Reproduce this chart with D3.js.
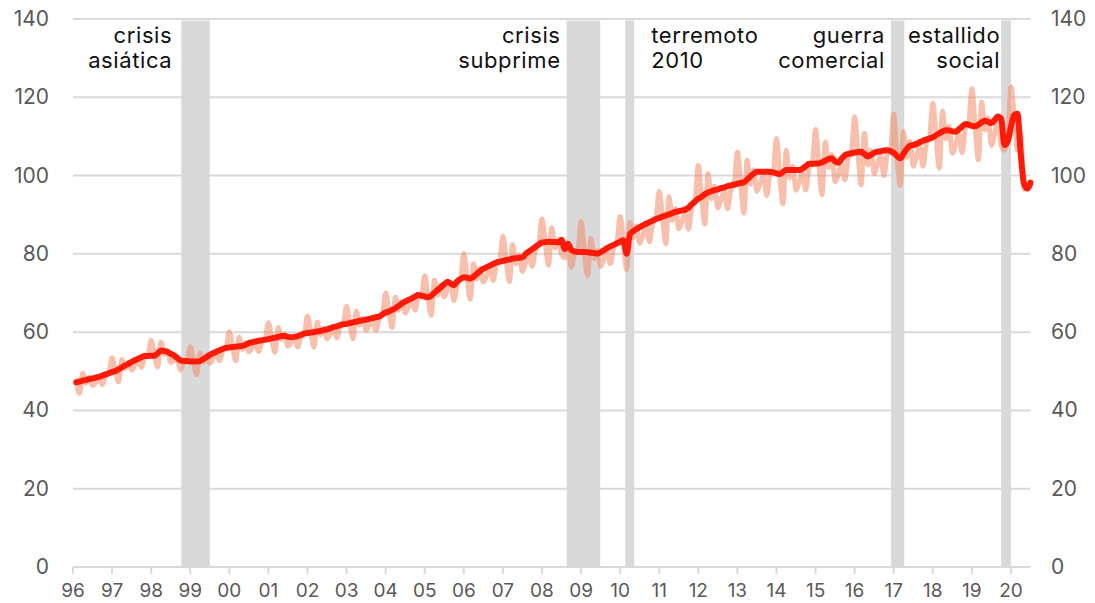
<!DOCTYPE html>
<html>
<head>
<meta charset="utf-8">
<script src="https://cdn.jsdelivr.net/npm/d3@7"></script>
<style>
  html, body { margin: 0; padding: 0; background: #fff; }
  svg { display: block; font-family: Inter, "Noto Sans", sans-serif; }
</style>
</head>
<body>
<svg id="chart" width="1095" height="603"></svg>
<script>
// monthly series, Jan 1996 .. Jun 2020 (one row per year)
const rawSeries = [
  47.2, 44.4, 49.5, 47.0, 48.4, 46.3, 47.2, 48.2, 46.6, 48.8, 49.5, 53.4,
  50.1, 47.3, 53.0, 50.7, 52.3, 50.3, 51.5, 52.8, 51.0, 53.5, 53.9, 57.9,
  54.0, 51.1, 57.5, 54.3, 55.3, 52.3, 52.8, 53.0, 50.3, 52.2, 52.6, 56.3,
  52.5, 49.1, 54.7, 52.3, 54.0, 52.0, 53.3, 54.6, 52.7, 55.3, 56.0, 60.1,
  56.2, 52.7, 58.7, 55.6, 57.3, 54.9, 56.0, 57.1, 55.0, 57.4, 58.1, 62.4,
  58.4, 54.8, 61.2, 58.1, 59.5, 56.4, 57.3, 58.3, 56.2, 58.8, 59.6, 64.1,
  59.9, 56.2, 62.6, 59.3, 61.0, 58.3, 59.5, 60.8, 58.5, 61.3, 62.0, 66.6,
  62.3, 58.3, 65.4, 61.8, 63.5, 60.5, 61.8, 63.1, 60.5, 63.5, 64.5, 70.0,
  65.3, 61.2, 68.9, 65.6, 67.9, 64.9, 66.5, 68.0, 65.6, 68.9, 69.3, 74.4,
  68.9, 64.3, 73.3, 69.5, 72.1, 69.0, 70.9, 71.7, 68.1, 72.3, 73.6, 80.0,
  73.9, 68.4, 77.5, 73.6, 76.3, 72.8, 74.5, 76.3, 73.2, 77.1, 78.0, 84.5,
  78.4, 72.9, 82.3, 77.5, 79.7, 75.5, 77.8, 79.9, 76.8, 81.1, 82.4, 89.0,
  83.0, 77.1, 86.7, 81.5, 83.6, 79.8, 79.0, 81.9, 76.6, 79.9, 80.5, 88.2,
  80.5, 74.4, 83.9, 78.8, 80.8, 76.8, 78.7, 80.8, 77.5, 81.6, 82.7, 89.6,
  83.5, 76.0, 88.0, 84.2, 87.1, 82.7, 84.8, 86.9, 83.1, 87.7, 88.9, 96.0,
  89.5, 82.6, 94.6, 88.6, 91.6, 86.4, 88.4, 90.4, 86.3, 91.8, 93.4, 102.6,
  94.6, 87.6, 100.5, 94.1, 97.3, 91.7, 93.9, 96.0, 91.5, 96.5, 97.7, 106.0,
  98.1, 90.4, 104.0, 97.8, 101.5, 96.0, 98.0, 100.0, 94.9, 100.0, 100.8, 109.4,
  100.4, 92.8, 106.5, 99.4, 102.4, 96.3, 98.4, 100.8, 96.3, 102.0, 103.0, 111.8,
  103.1, 95.1, 108.6, 102.1, 105.4, 98.4, 100.2, 103.3, 98.9, 104.4, 105.7, 115.0,
  106.0, 97.6, 110.8, 102.8, 106.4, 100.5, 102.9, 105.1, 100.0, 105.4, 106.3, 115.7,
  105.0, 97.5, 111.2, 104.7, 108.7, 102.4, 104.9, 107.4, 102.4, 108.1, 109.5, 118.5,
  110.3, 101.9, 116.5, 109.4, 112.6, 105.7, 107.9, 110.7, 105.8, 112.1, 113.0, 122.2,
  112.6, 104.0, 118.8, 111.7, 114.8, 107.7, 110.8, 114.0, 107.6, 106.5, 108.7, 122.6,
  115.5, 106.5, 111.0, 96.5, 96.8, 97.6
];

const trendSeries = [
  47.2, 47.4, 47.6, 47.8, 48.0, 48.2, 48.4, 48.6, 48.9, 49.2, 49.5, 49.8,
  50.1, 50.5, 51.0, 51.5, 51.9, 52.4, 52.8, 53.2, 53.6, 53.9, 53.9, 54.0,
  54.0, 54.6, 55.3, 55.2, 54.9, 54.5, 54.1, 53.4, 52.8, 52.6, 52.6, 52.5,
  52.5, 52.5, 52.6, 53.1, 53.6, 54.2, 54.6, 55.0, 55.4, 55.7, 56.0, 56.1,
  56.2, 56.3, 56.4, 56.5, 56.8, 57.2, 57.4, 57.6, 57.8, 57.9, 58.1, 58.2,
  58.4, 58.6, 58.8, 59.0, 59.0, 58.8, 58.7, 58.8, 59.0, 59.3, 59.6, 59.8,
  59.9, 60.0, 60.2, 60.3, 60.5, 60.7, 61.0, 61.3, 61.5, 61.8, 62.0, 62.1,
  62.3, 62.5, 62.7, 62.9, 63.0, 63.2, 63.4, 63.6, 63.8, 64.0, 64.5, 65.0,
  65.3, 65.7, 66.1, 66.7, 67.3, 67.8, 68.2, 68.6, 69.1, 69.5, 69.3, 69.1,
  68.9, 69.3, 70.1, 70.8, 71.5, 72.2, 72.9, 72.4, 72.0, 73.0, 73.6, 74.0,
  73.9, 73.7, 74.2, 74.9, 75.6, 76.2, 76.6, 77.0, 77.4, 77.8, 78.0, 78.2,
  78.4, 78.6, 78.8, 78.9, 79.0, 79.1, 80.0, 80.6, 81.2, 81.8, 82.4, 82.9,
  83.0, 83.1, 83.0, 83.0, 82.9, 83.6, 81.2, 82.6, 81.0, 80.6, 80.5, 80.5,
  80.5, 80.4, 80.3, 80.2, 80.1, 80.4, 80.9, 81.5, 81.9, 82.3, 82.7, 83.1,
  83.5, 80.0, 85.0, 85.8, 86.3, 86.8, 87.3, 87.7, 88.1, 88.5, 88.9, 89.2,
  89.5, 89.8, 90.1, 90.4, 90.7, 90.9, 91.1, 91.3, 91.8, 92.7, 93.4, 94.1,
  94.6, 95.2, 95.7, 96.0, 96.3, 96.5, 96.8, 97.0, 97.3, 97.5, 97.7, 97.9,
  98.1, 98.3, 99.0, 99.8, 100.5, 101.0, 101.0, 101.0, 101.0, 101.0, 100.8, 100.6,
  100.4, 100.9, 101.4, 101.4, 101.4, 101.4, 101.4, 101.8, 102.4, 103.0, 103.0, 103.1,
  103.1, 103.4, 103.8, 104.2, 104.4, 103.6, 103.3, 104.3, 105.2, 105.5, 105.7, 105.9,
  106.0, 106.1, 105.5, 104.9, 105.3, 105.8, 106.1, 106.2, 106.4, 106.5, 106.3, 105.8,
  105.0, 104.4, 105.6, 106.8, 107.6, 107.8, 108.1, 108.5, 108.9, 109.2, 109.5, 109.8,
  110.3, 110.8, 111.3, 111.6, 111.5, 111.3, 111.2, 111.8, 112.5, 113.2, 113.0, 112.7,
  112.6, 113.0, 113.6, 114.0, 113.7, 113.4, 114.2, 115.1, 114.5, 107.8, 108.7, 112.5,
  115.5, 115.8, 105.5, 98.0, 96.7, 98.2
];

const startYear = 1996;
const yearTicks = d3.range(1996, 2021);
const yTicks = [0, 20, 40, 60, 80, 100, 120, 140];

// shaded episodes, in fractional years
const bandStart = [1998.77, 2008.63, 2010.13, 2016.93, 2019.75];
const bandEnd = [1999.5, 2009.49, 2010.36, 2017.27, 2020.0];
const bandLabelLines = [["crisis", "asiática"], ["crisis", "subprime"], ["terremoto", "2010"], ["guerra", "comercial"], ["estallido", "social"]];
const bandLabelSide = ["left", "left", "right", "left", "left"];
const bandLabelGap = [9, 6, 17, 6, 1];

const svg = d3.select("#chart");

const x = d3.scaleLinear().domain([1996, 2020.5]).range([73, 1030.5]);
const y = d3.scaleLinear().domain([0, 140]).range([567, 19]);

// a month i is drawn at the end of that month
const monthX = i => x(startYear + (i + 1) / 12);

// grid
svg.append("g")
  .selectAll("line")
  .data(yTicks.filter(d => d > 0))
  .join("line")
  .attr("x1", x(1996)).attr("x2", x(2020.5))
  .attr("y1", d => y(d)).attr("y2", d => y(d))
  .attr("stroke", "#d9d9d9")
  .attr("stroke-width", 2);

// bands
svg.append("g")
  .selectAll("rect")
  .data(bandStart.map((s, i) => ({ s: s, e: bandEnd[i] })))
  .join("rect")
  .attr("x", d => x(d.s))
  .attr("width", d => x(d.e) - x(d.s))
  .attr("y", y(139.6))
  .attr("height", y(0) - y(139.6))
  .attr("fill", "#d9d9d9");

// band labels
const labels = svg.append("g")
  .attr("font-size", 22)
  .attr("letter-spacing", 0.6)
  .attr("fill", "#111");
bandLabelLines.forEach((lines, i) => {
  const before = bandLabelSide[i] == "left";
  const tx = before ? x(bandStart[i]) - bandLabelGap[i] : x(bandEnd[i]) + bandLabelGap[i];
  const t = labels.append("text")
    .attr("text-anchor", before ? "end" : "start");
  lines.forEach((line, j) => {
    t.append("tspan").attr("x", tx).attr("y", 43 + j * 25).text(line);
  });
});

// x axis
const xAxis = svg.append("g");
xAxis.append("line")
  .attr("x1", x(1996)).attr("x2", x(2020.5))
  .attr("y1", y(0)).attr("y2", y(0))
  .attr("stroke", "#d9d9d9").attr("stroke-width", 2);
xAxis.selectAll("line.tick")
  .data(yearTicks)
  .join("line")
  .classed("tick", true)
  .attr("x1", d => x(d)).attr("x2", d => x(d))
  .attr("y1", y(0)).attr("y2", y(0) + 7)
  .attr("stroke", "#d9d9d9").attr("stroke-width", 2);
xAxis.selectAll("text")
  .data(yearTicks)
  .join("text")
  .attr("x", d => x(d))
  .attr("y", 597)
  .attr("text-anchor", "middle")
  .attr("font-size", 19)
  .attr("fill", "#595959")
  .text(d => String(d % 100).padStart(2, "0"));

// y labels both sides
svg.append("g")
  .selectAll("text")
  .data(yTicks)
  .join("text")
  .attr("x", 49)
  .attr("y", d => y(d) + 7)
  .attr("text-anchor", "end")
  .attr("font-size", 21)
  .attr("fill", "#595959")
  .text(d => d);
svg.append("g")
  .selectAll("text")
  .data(yTicks)
  .join("text")
  .attr("x", 1051)
  .attr("y", d => y(d) + 7)
  .attr("text-anchor", "start")
  .attr("font-size", 21)
  .attr("fill", "#595959")
  .text(d => d);

const line = d3.line()
  .x((d, i) => monthX(i))
  .y(d => y(d))
  .curve(d3.curveMonotoneX);

svg.append("path")
  .datum(rawSeries)
  .attr("d", line)
  .attr("fill", "none")
  .attr("stroke", "#f08a68")
  .attr("stroke-opacity", 0.55)
  .attr("stroke-width", 5)
  .attr("stroke-linejoin", "round");

svg.append("path")
  .datum(trendSeries)
  .attr("d", line)
  .attr("fill", "none")
  .attr("stroke", "#ff1a08")
  .attr("stroke-width", 6)
  .attr("stroke-linejoin", "round")
  .attr("stroke-linecap", "round");
</script>
</body>
</html>
